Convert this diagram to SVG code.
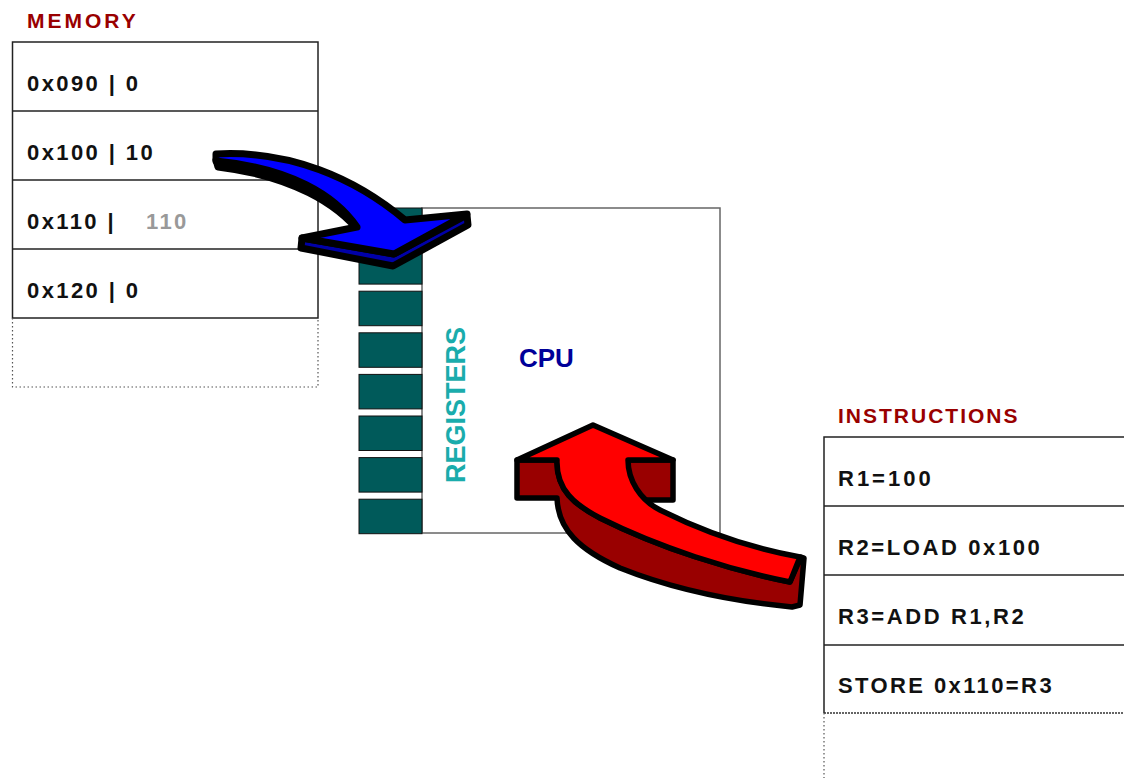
<svg xmlns="http://www.w3.org/2000/svg" width="1124" height="778" viewBox="0 0 1124 778">
<style>
.cell{fill:#ffffff;stroke:#222;stroke-width:1.5}
.sep{stroke:#222;stroke-width:1.5}
.dot{fill:none;stroke:#555;stroke-width:1.2;stroke-dasharray:1.5 2.5}
.txt{font-family:"Liberation Sans",Arial,sans-serif;font-weight:bold;font-size:22px;fill:#111;letter-spacing:2.4px}
.hdr{font-family:"Liberation Sans",Arial,sans-serif;font-weight:bold;font-size:21px;fill:#990000}
.reg{fill:#005a5a;stroke:#111;stroke-width:1}
.out{stroke:#000;stroke-width:5.5;stroke-linejoin:round;stroke-linecap:round}
.outb{stroke:#000;stroke-width:7;stroke-linejoin:round;stroke-linecap:round}
</style>
<rect width="1124" height="778" fill="#ffffff"/>

<g id="memory">
  <text class="hdr" x="27" y="28" style="letter-spacing:3px">MEMORY</text>
  <rect class="cell" x="12.5" y="42" width="305.5" height="276"/>
  <line class="sep" x1="12.5" y1="111" x2="318" y2="111"/>
  <line class="sep" x1="12.5" y1="180" x2="318" y2="180"/>
  <line class="sep" x1="12.5" y1="249" x2="318" y2="249"/>
  <path class="dot" d="M12.5,318 V387 H318 V318"/>
  <text class="txt" x="27" y="91">0x090 | 0</text>
  <text class="txt" x="27" y="160">0x100 | 10</text>
  <text class="txt" x="27" y="229">0x110 |<tspan x="146" fill="#999999">110</tspan></text>
  <text class="txt" x="27" y="298">0x120 | 0</text>
</g>

<g id="cpu">
  <rect x="422" y="208" width="298" height="325" fill="#ffffff" stroke="#666" stroke-width="1.5"/>
  <text x="519" y="367" font-family="'Liberation Sans',Arial,sans-serif" font-weight="bold" font-size="26" fill="#000099">CPU</text>
</g>

<g id="registers">
  <rect class="reg" x="359" y="208" width="63" height="34.5"/>
  <rect class="reg" x="359" y="249.6" width="63" height="34.5"/>
  <rect class="reg" x="359" y="291.2" width="63" height="34.5"/>
  <rect class="reg" x="359" y="332.8" width="63" height="34.5"/>
  <rect class="reg" x="359" y="374.4" width="63" height="34.5"/>
  <rect class="reg" x="359" y="416" width="63" height="34.5"/>
  <rect class="reg" x="359" y="457.6" width="63" height="34.5"/>
  <rect class="reg" x="359" y="499.2" width="63" height="34.5"/>
  <text transform="translate(465,483) rotate(-90)" font-family="'Liberation Sans',Arial,sans-serif" font-weight="bold" font-size="27" fill="#1aacac">REGISTERS</text>
</g>

<g id="instructions">
  <text class="hdr" x="838" y="423" style="letter-spacing:2px">INSTRUCTIONS</text>
  <path d="M1126,437 H824 V713" fill="none" stroke="#222" stroke-width="1.5"/>
  <line class="sep" x1="824" y1="506" x2="1126" y2="506"/>
  <line class="sep" x1="824" y1="575" x2="1126" y2="575"/>
  <line class="sep" x1="824" y1="645" x2="1126" y2="645"/>
  <line x1="824" y1="713" x2="1126" y2="713" stroke="#333" stroke-width="1.5" stroke-dasharray="2 1"/>
  <path class="dot" d="M824,713 V778"/>
  <text class="txt" x="838" y="486" style="letter-spacing:3px">R1=100</text>
  <text class="txt" x="838" y="555" style="letter-spacing:2.6px">R2=LOAD 0x100</text>
  <text class="txt" x="838" y="624" style="letter-spacing:2.6px">R3=ADD R1,R2</text>
  <text class="txt" x="838" y="693" style="letter-spacing:2.4px">STORE 0x110=R3</text>
</g>

<g id="connectors">
  <g id="load-arrow">
    <path class="outb" fill="#0000a8" d="M216,160 C290,168 335,195 357,227 L361,234 C338,204 292,176 218,167 Z"/>
    <path class="outb" fill="#0000a8" d="M302,238 L394,254 L467,215 L468,225 L393,266 L301,248 Z"/>
    <path class="outb" fill="#0000ff" d="M216,154 C290,150 355,178 405,220 L467,214 L394,254 L302,238 L357,227 C335,195 290,168 216,161 Z"/>
  </g>
  <g id="fetch-arrow">
    <path class="out" fill="#990000" d="M517,460 L557,460 C556,490 575,505 600,518 C660,548 730,570 790,582 L801,557 L804,558 L800,605 L792,607 C740,602 680,592 620,568 C580,550 558,530 557,498 L517,498 Z"/>
    <rect class="out" fill="#990000" x="628" y="460" width="45" height="40"/>
    <path class="out" fill="#ff0000" d="M593,425 L673,460 L628,460 C628,480 640,500 660,510 C700,530 750,548 800,557 L790,582 C730,570 660,548 600,518 C575,505 556,490 557,460 L517,460 Z"/>
  </g>
</g>
</svg>
